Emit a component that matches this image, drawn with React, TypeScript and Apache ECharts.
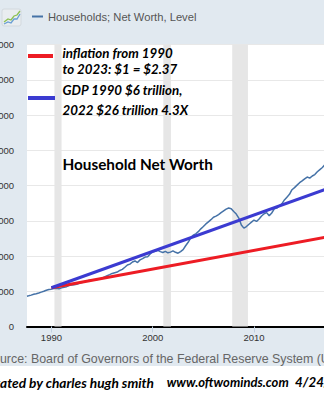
import React, { useEffect, useRef } from "react";
import * as echarts from "echarts";

// Households; Net Worth, Level (millions of dollars)
const nwYears = [
  1987.59, 1987.75, 1988.0, 1988.25, 1988.5, 1988.75, 1989.0, 1989.25, 1989.5, 1989.75,
  1990.0, 1990.25, 1990.5, 1990.75, 1991.0, 1991.25, 1991.5, 1991.75, 1992.0, 1992.25,
  1992.5, 1992.75, 1993.0, 1993.25, 1993.5, 1993.75, 1994.0, 1994.25, 1994.5, 1994.75,
  1995.0, 1995.25, 1995.5, 1995.75, 1996.0, 1996.25, 1996.5, 1996.75, 1997.0, 1997.25,
  1997.5, 1997.75, 1998.0, 1998.25, 1998.5, 1998.75, 1999.0, 1999.25, 1999.5, 1999.75,
  2000.0, 2000.25, 2000.5, 2000.75, 2001.0, 2001.25, 2001.5, 2001.75, 2002.0, 2002.25,
  2002.5, 2002.75, 2003.0, 2003.25, 2003.5, 2003.75, 2004.0, 2004.25, 2004.5, 2004.75,
  2005.0, 2005.25, 2005.5, 2005.75, 2006.0, 2006.25, 2006.5, 2006.75, 2007.0, 2007.25,
  2007.5, 2007.75, 2008.0, 2008.25, 2008.5, 2008.75, 2009.0, 2009.25, 2009.5, 2009.75,
  2010.0, 2010.25, 2010.5, 2010.75, 2011.0, 2011.25, 2011.5, 2011.75, 2012.0, 2012.25,
  2012.5, 2012.75, 2013.0, 2013.25, 2013.5, 2013.75, 2014.0, 2014.25, 2014.5, 2014.75,
  2015.0, 2015.25, 2015.5, 2015.75, 2016.0, 2016.25, 2016.5, 2016.75, 2017.0, 2017.25,
];
const nwValues = [
  17200000, 17400000, 17800000, 18300000, 18600000, 19000000, 19500000, 20000000, 20600000, 21000000,
  21200000, 21500000, 21700000, 21400000, 21900000, 22300000, 22600000, 23200000, 23500000, 23700000,
  24000000, 24500000, 24900000, 25300000, 25800000, 26200000, 26400000, 26300000, 26600000, 26900000,
  27400000, 28100000, 28800000, 29400000, 30100000, 30500000, 30900000, 31800000, 32400000, 33600000,
  34900000, 35400000, 36600000, 37200000, 36300000, 37800000, 38500000, 39400000, 39600000, 41200000,
  42400000, 42700000, 43200000, 42500000, 42000000, 42600000, 41800000, 42200000, 42900000, 42100000,
  41600000, 42500000, 43600000, 45800000, 47800000, 50300000, 51800000, 52600000, 53800000, 55400000,
  56700000, 58200000, 59400000, 60600000, 62000000, 62600000, 63500000, 64600000, 65600000, 66600000,
  67200000, 66800000, 65200000, 63800000, 61500000, 57600000, 55800000, 56700000, 58000000, 59200000,
  60400000, 59600000, 61000000, 62700000, 64000000, 64600000, 62800000, 64400000, 66800000, 67200000,
  68400000, 69600000, 71800000, 73400000, 75000000, 77600000, 78800000, 80200000, 81600000, 82600000,
  83800000, 84800000, 84200000, 85400000, 86200000, 87800000, 89000000, 90200000, 91800000, 93500000,
];

// Drawn reference lines (annotations)
const inflationYears = [1990, 2023];
const inflationValues = [22000000, 57000000];
const gdpYears = [1990, 2022];
const gdpValues = [22000000, 88000000];

// Recession shading (start, end)
const recessionStarts = [1990.3, 2001.05, 2007.85];
const recessionEnds = [1991.0, 2001.8, 2009.4];

const xTickYears = [1990, 2000, 2010];
const xMin = 1987.59;
const xMax = 2016.91;
const yMin = 0;
const yMax = 160000000;
const yInterval = 20000000;

const legendText = "Households; Net Worth, Level";
const inflationLines = ["inflation from 1990", "to 2023: $1 = $2.37"];
const gdpLines = ["GDP 1990 $6 trillion,", "2022 $26 trillion 4.3X"];
const titleText = "Household Net Worth";
const sourceText = "Source: Board of Governors of the Federal Reserve System (US)";
const creditName = "Annotated by charles hugh smith";
const creditSite = "www.oftwominds.com";
const creditDate = "4/24/23";

const ANNOT_FONT = "Lato, 'Open Sans', sans-serif";
const SANS = "'Liberation Sans', Arial, sans-serif";

function txt(text: string, x: number, y: number, extra: any) {
  return {
    type: "text",
    x,
    y,
    z: 100,
    silent: true,
    style: {
      text,
      textAlign: "left",
      textVerticalAlign: "middle",
      align: "left",
      verticalAlign: "middle",
      ...extra,
    },
  };
}

export default function App() {
  const ref = useRef<HTMLDivElement>(null);

  useEffect(() => {
    if (!ref.current) return;
    const chart = echarts.init(ref.current, undefined, { renderer: "svg" });

    const nwData = nwYears.map((y, i) => [y, nwValues[i]]);
    const infData = inflationYears.map((y, i) => [y, inflationValues[i]]);
    const gdpData = gdpYears.map((y, i) => [y, gdpValues[i]]);
    const recData = recessionStarts.map((s, i) => [{ xAxis: s }, { xAxis: recessionEnds[i] }]);

    const annotBI = {
      fontFamily: ANNOT_FONT,
      fontWeight: "bold",
      fontStyle: "italic",
      fontSize: 13.3,
      fill: "#000",
    };

    chart.setOption({
      animation: false,
      backgroundColor: "#e1e9f0",
      grid: {
        left: 27,
        right: 0,
        top: 44.5,
        bottom: 73.5,
        containLabel: false,
        outerBoundsMode: "none",
        show: true,
        backgroundColor: "#ffffff",
        borderWidth: 0,
      },
      xAxis: {
        type: "value",
        min: xMin,
        max: xMax,
        splitLine: { show: false },
        axisLine: { show: true, onZero: false, lineStyle: { color: "#000", width: 2 } },
        axisTick: {
          show: true,
          customValues: xTickYears,
          length: 6,
          lineStyle: { color: "#c0d0e0", width: 1 },
        },
        axisLabel: {
          customValues: xTickYears,
          formatter: (v: number) => String(Math.round(v)),
          fontFamily: SANS,
          fontSize: 9.5,
          color: "#333",
          margin: 6,
          hideOverlap: false,
        },
      },
      yAxis: {
        type: "value",
        min: yMin,
        max: yMax,
        interval: yInterval,
        axisLine: { show: false },
        axisTick: { show: false },
        splitLine: { show: true, lineStyle: { color: "#e8e8e8", width: 1 } },
        axisLabel: {
          formatter: (v: number) => v.toLocaleString("en-US"),
          fontFamily: SANS,
          fontSize: 9.5,
          color: "#333",
          margin: 13,
          hideOverlap: false,
        },
      },
      series: [
        {
          name: legendText,
          type: "line",
          data: nwData,
          showSymbol: false,
          lineStyle: { color: "#4572a7", width: 1.5 },
          itemStyle: { color: "#4572a7" },
          markArea: {
            silent: true,
            itemStyle: { color: "#e6e6e6" },
            data: recData,
          },
          z: 2,
        },
        {
          name: "inflation",
          type: "line",
          data: infData,
          showSymbol: false,
          lineStyle: { color: "#ed1c24", width: 3 },
          z: 3,
        },
        {
          name: "gdp",
          type: "line",
          data: gdpData,
          showSymbol: false,
          lineStyle: { color: "#3b3bd1", width: 3 },
          z: 4,
        },
      ],
      graphic: [
        // white strip at the bottom
        { type: "rect", silent: true, z: 90, shape: { x: 0, y: 366, width: 324, height: 34 }, style: { fill: "#ffffff" } },
        // legend icon
        {
          type: "group",
          silent: true,
          z: 100,
          children: [
            { type: "rect", z: 100, shape: { x: 2, y: 9, width: 19, height: 17, r: 2 }, style: { fill: "#e9edf0", stroke: "#d3d9de", lineWidth: 1 } },
            { type: "polyline", z: 101, shape: { points: [[4, 22], [8, 19], [11, 20], [14, 16], [17, 15], [20, 11]] }, style: { stroke: "#8cc152", lineWidth: 1.3, fill: null } },
            { type: "polyline", z: 101, shape: { points: [[4, 24], [8, 22], [11, 23], [14, 19], [17, 19], [20, 14]] }, style: { stroke: "#6a9fd4", lineWidth: 1.3, fill: null } },
          ],
        },
        { type: "line", silent: true, z: 100, shape: { x1: 32, y1: 16.5, x2: 43, y2: 16.5 }, style: { stroke: "#4572a7", lineWidth: 2 } },
        txt(legendText, 48, 16.8, { fontFamily: SANS, fontSize: 11.2, fill: "#555" }),
        // annotation markers
        { type: "line", silent: true, z: 100, shape: { x1: 28, y1: 56, x2: 53, y2: 56 }, style: { stroke: "#ed1c24", lineWidth: 4 } },
        { type: "line", silent: true, z: 100, shape: { x1: 28, y1: 98, x2: 55, y2: 98 }, style: { stroke: "#3b3bd1", lineWidth: 4 } },
        txt(inflationLines[0], 62.5, 52.5, annotBI),
        txt(inflationLines[1], 62.5, 68.5, annotBI),
        txt(gdpLines[0], 62.5, 90, annotBI),
        txt(gdpLines[1], 62.5, 110, annotBI),
        txt(titleText, 62.5, 163.5, { fontFamily: ANNOT_FONT, fontWeight: "bold", fontSize: 15.3, fill: "#000" }),
        // source
        txt(sourceText, -15.2, 359, { fontFamily: SANS, fontSize: 12.4, fill: "#666" }),
        // credit
        txt(creditName, 154, 382, { ...annotBI, fontSize: 13.7, textAlign: "right", align: "right" }),
        txt(creditSite, 166.7, 382, { ...annotBI, fontSize: 13 }),
        txt(creditDate, 295, 382, { ...annotBI, fontSize: 13.3 }),
      ],
    });

    return () => chart.dispose();
  }, []);

  return (
    <div
      ref={ref}
      style={{ position: "fixed", left: 0, top: 0, width: 324, height: 400, overflow: "hidden" }}
    />
  );
}
